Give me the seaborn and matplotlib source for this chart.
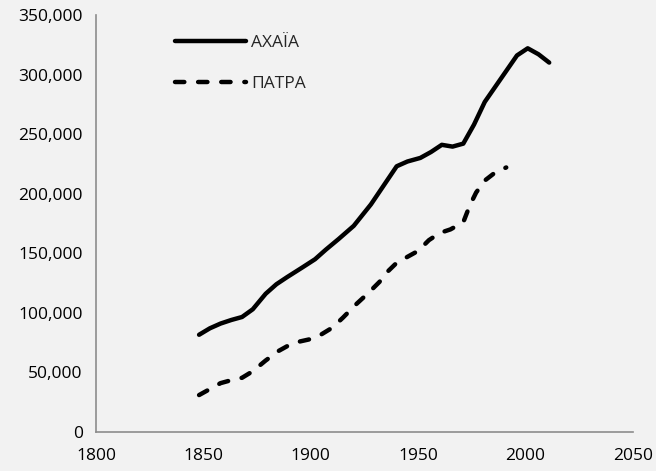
import numpy as np
import pandas as pd
import seaborn as sns
import matplotlib.pyplot as plt
from matplotlib.ticker import StrMethodFormatter

# values
achaia_years = [1848, 1853, 1858, 1863, 1868, 1873, 1879, 1884, 1889, 1896, 1902,
                1907, 1913, 1920, 1928, 1934, 1940, 1945, 1951, 1956, 1961, 1966,
                1971, 1976, 1981, 1986, 1991, 1996, 2001, 2006, 2011]
achaia_pop = [81600, 87000, 91000, 94000, 96500, 103000, 116000, 124000, 130000,
              138000, 145000, 153000, 162000, 173000, 191000, 207000, 223000,
              227000, 230000, 235000, 241000, 239500, 242000, 258000, 277000,
              290000, 303000, 316000, 322000, 317000, 310000]

patra_years = [1848, 1853, 1858, 1863, 1868, 1873, 1879, 1885, 1890, 1895, 1900,
               1905, 1910, 1915, 1921, 1927, 1932, 1936, 1940, 1945, 1950, 1955,
               1960, 1965, 1971, 1974, 1977, 1981, 1986, 1991]
patra_pop = [31000, 36000, 41000, 43500, 45500, 51000, 60000, 68000, 73000, 76000,
             78000, 82000, 87500, 96000, 107000, 117000, 126000, 135000, 142000,
             147000, 152000, 161000, 167000, 170000, 176000, 190000, 201000,
             211000, 218000, 222000]

labels = ['ΑΧΑΪΑ', 'ΠΑΤΡΑ']

bg = '#F2F2F2'
grey = '#8C8C8C'

sns.set_style('white')
plt.rcParams['font.family'] = ['Open Sans', 'DejaVu Sans']
plt.rcParams['font.size'] = 12.5

fig = plt.figure(figsize=(6.56, 4.71), dpi=100, facecolor=bg)
ax = fig.add_axes([0.1463, 0.0828, 0.8186, 0.8855])
ax.set_facecolor(bg)

sns.lineplot(x=achaia_years, y=achaia_pop, ax=ax, color='black', lw=3.2,
             label=labels[0], solid_capstyle='round', solid_joinstyle='round')
sns.lineplot(x=patra_years, y=patra_pop, ax=ax, color='black', lw=3.2,
             label=labels[1], linestyle=(0, (2.1, 3.1)),
             dash_capstyle='round', dash_joinstyle='round')

ax.set_xlim(1800, 2050)
ax.set_ylim(0, 350000)
ax.set_xticks(np.arange(1800, 2051, 50))
ax.set_yticks(np.arange(0, 350001, 50000))
ax.yaxis.set_major_formatter(StrMethodFormatter('{x:,.0f}'))
ax.set_xlabel('')
ax.set_ylabel('')

for side in ['top', 'right']:
    ax.spines[side].set_visible(False)
for side in ['left', 'bottom']:
    ax.spines[side].set_color(grey)
    ax.spines[side].set_linewidth(1.2)
ax.tick_params(axis='both', direction='out', length=4.5, width=1.2, color=grey,
               labelsize=12.5, labelcolor='black', pad=5)
ax.tick_params(axis='x', pad=7)

ax.legend(loc='upper left', bbox_to_anchor=(0.147, 0.952), frameon=False,
          borderaxespad=0, borderpad=0, handlelength=4.1, handletextpad=0.3,
          labelspacing=1.45, fontsize=12.5)

plt.savefig('out.png', dpi=100, facecolor=bg)
